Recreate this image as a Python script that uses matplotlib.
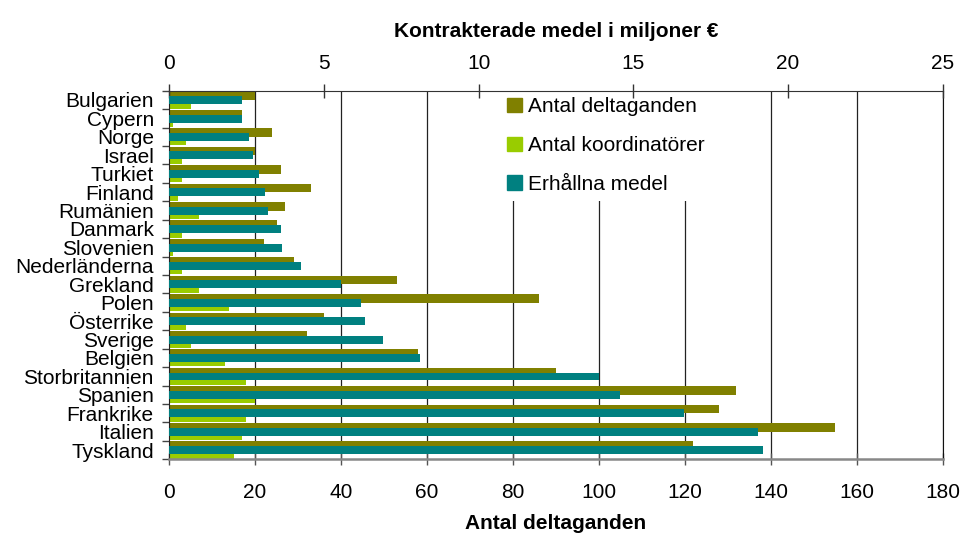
import numpy as np
import matplotlib
matplotlib.use("Agg")
import matplotlib.pyplot as plt
from matplotlib.patches import Patch, Rectangle

plt.rcParams['font.family'] = ['Liberation Sans', 'DejaVu Sans']

# data per land, uppifrån och ned
lander = ['Bulgarien', 'Cypern', 'Norge', 'Israel', 'Turkiet', 'Finland', 'Rumänien',
          'Danmark', 'Slovenien', 'Nederländerna', 'Grekland', 'Polen', 'Österrike',
          'Sverige', 'Belgien', 'Storbritannien', 'Spanien', 'Frankrike', 'Italien', 'Tyskland']
deltaganden = [20, 17, 24, 20, 26, 33, 27, 25, 22, 29, 53, 86, 36, 32, 58, 90, 132, 128, 155, 122]
koordinatorer = [5, 1, 4, 3, 3, 2, 7, 3, 1, 3, 7, 14, 4, 5, 13, 18, 20, 18, 17, 15]
medel = [2.34, 2.34, 2.58, 2.70, 2.92, 3.11, 3.18, 3.61, 3.64, 4.26, 5.57, 6.20, 6.33,
         6.91, 8.10, 13.88, 14.57, 16.64, 19.03, 19.19]

c_delt = '#808000'
c_koord = '#99CC00'
c_medel = '#008080'
fs = 15

fig = plt.figure(figsize=(9.61, 5.34), dpi=100)
ax = fig.add_axes([0.176, 0.140, 0.805, 0.690])
y = np.arange(len(lander))

ax.barh(y - 0.232, deltaganden, height=0.464, color=c_delt, zorder=2)
ax.barh(y + 0.232, koordinatorer, height=0.464, color=c_koord, zorder=2)

ax.set_xlim(0, 180)
ax.set_ylim(len(lander) - 0.5, -0.5)
ax.set_xticks(np.arange(0, 181, 20))
for xv in np.arange(20, 181, 20):
    ax.axvline(xv, color='#222222', lw=0.9, zorder=0.5)
# vit yta bakom förklaringen
ax.add_patch(Rectangle((0.337, 0.70), 0.436, 0.30, transform=ax.transAxes,
                       facecolor='white', edgecolor='none', zorder=0.8))

ax.set_yticks(np.arange(len(lander) + 1) - 0.5)
ax.set_yticklabels([])
ax.set_yticks(y, minor=True)
ax.set_yticklabels(lander, minor=True, fontsize=fs)
ax.tick_params(axis='y', which='major', direction='out', length=5, width=1, color='#444444')
ax.tick_params(axis='y', which='minor', length=0, pad=11)
ax.tick_params(axis='x', direction='inout', length=8, width=1, color='#555555',
               labelsize=fs, pad=13)

ax.spines['bottom'].set_color('#888888')
ax.spines['bottom'].set_linewidth(1.8)
ax.spines['left'].set_color('#222222')
ax.spines['right'].set_color('#111111')
ax.spines['top'].set_color('#333333')
ax.set_xlabel('Antal deltaganden', fontsize=fs, fontweight='bold', labelpad=9)

ax2 = ax.twiny()
ax2.barh(y + 0.01, medel, height=0.43, color=c_medel, zorder=2)
ax2.set_xlim(0, 25)
ax2.set_xticks(np.arange(0, 26, 5))
ax2.tick_params(axis='x', direction='inout', length=10, width=1, color='#333333',
                labelsize=fs, pad=8)
ax2.set_xlabel('Kontrakterade medel i miljoner €', fontsize=fs, fontweight='bold',
               labelpad=12)
for s in ax2.spines.values():
    s.set_visible(False)

handles = [Patch(color=c_delt), Patch(color=c_koord), Patch(color=c_medel)]
ax2.legend(handles, ['Antal deltaganden', 'Antal koordinatörer', 'Erhållna medel'],
           loc='upper left', bbox_to_anchor=(0.437, 0.982), frameon=False,
           fontsize=fs, handlelength=0.7, handleheight=0.7, handletextpad=0.3,
           labelspacing=0.95, borderpad=0, borderaxespad=0)

fig.savefig('out.png', dpi=100)
